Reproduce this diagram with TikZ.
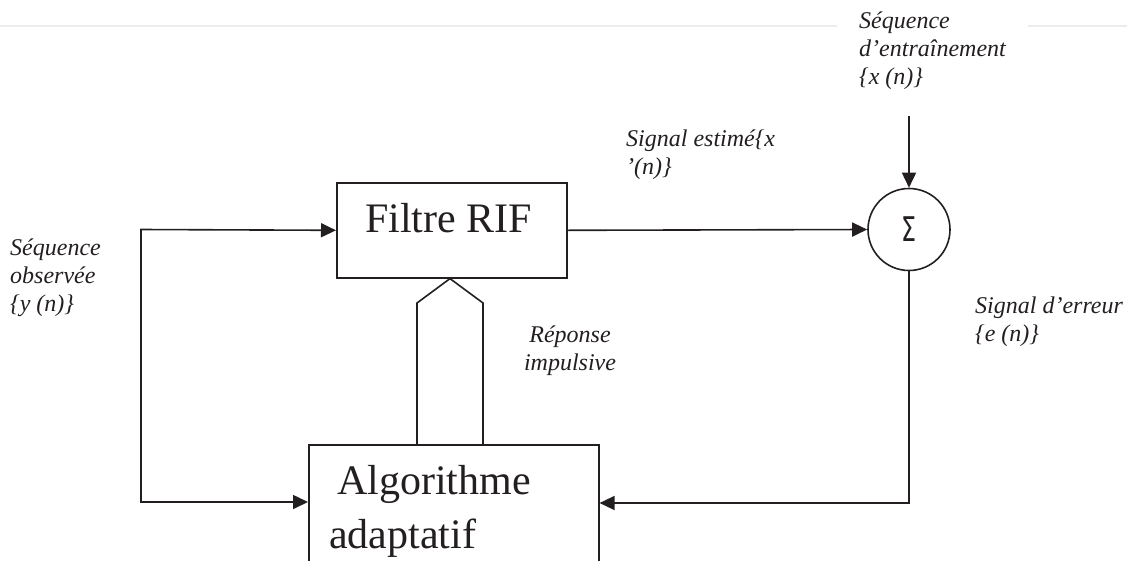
\documentclass[tikz,border=0pt]{standalone}
\usepackage{fontspec}
\setmainfont{Liberation Serif}[ItalicFont=Liberation Serif Italic]
\newfontfamily\sigmafont{DejaVu Sans}
\usetikzlibrary{arrows.meta}
\definecolor{ink}{HTML}{231F20}
\newcommand\lbltab[2]{\begin{tabular}[t]{@{}#1@{}}#2\end{tabular}}
\begin{document}
\begin{tikzpicture}[x=1pt,y=-1pt,
  wire/.style={line width=1.6pt, draw=ink, line join=miter},
  tip/.tip={Triangle[length=15pt,width=14pt]},
  arr/.style={wire, -tip},
  blk/.style={draw=ink, line width=1.6pt, rectangle, inner sep=0pt},
  lbl/.style={font=\fontsize{24}{28}\selectfont\itshape, inner sep=0pt, anchor=base west, text=ink},
  big/.style={font=\fontsize{42}{55}\selectfont, inner sep=0pt, anchor=base west, text=ink}]

\useasboundingbox (0,0) rectangle (1127,560);
\clip (0,0) rectangle (1127,560);

% faint rule across the top
\draw[gray!15, line width=1.5pt] (0,26) -- (837,26) (1028,26) -- (1127,26);

% blocks
\node[blk, minimum width=230pt, minimum height=95pt, anchor=north west] (rif) at (336,182) {};
\node[big] (riftext) at (365,232) {Filtre RIF};
\node[blk, minimum width=290pt, minimum height=160pt, anchor=north west] (algo) at (308,444) {};
\node[big] (algo1) at (337,494) {Algorithme};
\node[big] (algo2) at (329,548) {adaptatif};
\node[circle, draw=ink, line width=1.6pt, minimum size=82pt, inner sep=0pt] (sum) at (909,229.5) {};
\node[font=\sigmafont\fontsize{34}{34}\selectfont, xscale=0.7, text=ink, inner sep=0pt] (sigma) at (sum.center) {Σ};

% observed sequence loop
\coordinate (ytop) at (141,229.5);
\coordinate (ybot) at (141,502);
\draw[wire, tip-tip] (rif.west) -- (ytop) -- (ybot) -- (algo.west |- ybot);

% filter output to the summing junction
\draw[arr] (rif.east) -- (sum.west);

% training sequence input
\coordinate (xin) at (909,116);
\draw[arr] (xin) -- (sum.north);

% error signal back to the adaptive algorithm
\coordinate (ebot) at (909,503);
\draw[arr] (sum.south) -- (ebot) -- (algo.east |- ebot);

% impulse response update (wide arrow)
\draw[wire] (417,0 |- algo.north) -- (417,303) -- (450,0 |- rif.south) -- (483,303) -- (483,0 |- algo.north);

% labels
\node[lbl] (lx) at (859,28) {\lbltab{l}{Séquence\\d'entraînement\\\{x (n)\}}};
\node[lbl] (lest) at (626,146) {\lbltab{l}{Signal estimé\{x\\'(n)\}}};
\node[lbl] (lerr) at (975,313) {\lbltab{l}{Signal d'erreur\\\{e (n)\}}};
\node[lbl, anchor=base] (limp) at (570,342) {\lbltab{c}{Réponse\\impulsive}};
\node[lbl] (ly) at (10,255) {\lbltab{l}{Séquence\\observée\\\{y (n)\}}};
\end{tikzpicture}
\end{document}
